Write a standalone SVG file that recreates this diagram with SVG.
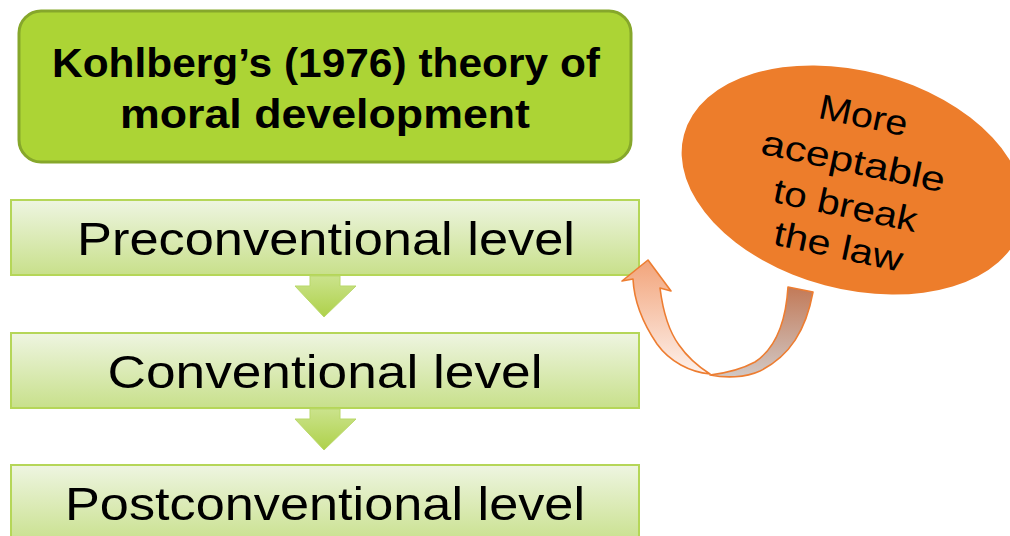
<svg xmlns="http://www.w3.org/2000/svg" width="1010" height="536" viewBox="0 0 1010 536">
<defs>
<linearGradient id="boxG" x1="0" y1="0" x2="0" y2="1">
<stop offset="0" stop-color="#eef5e1"/>
<stop offset="1" stop-color="#c8e08b"/>
</linearGradient>
<linearGradient id="arrG" x1="0" y1="0" x2="0" y2="1">
<stop offset="0" stop-color="#cbe38c"/>
<stop offset="1" stop-color="#aed14a"/>
</linearGradient>
<linearGradient id="leftG" x1="0" y1="0" x2="0" y2="1">
<stop offset="0" stop-color="#f2a47a"/>
<stop offset="1" stop-color="#fdf1ec"/>
</linearGradient>
<linearGradient id="rightG" x1="0" y1="0" x2="0" y2="1">
<stop offset="0" stop-color="#c27a58"/>
<stop offset="1" stop-color="#d1c8c5"/>
</linearGradient>
<style>
.box{fill:url(#boxG);stroke:#b5d658;stroke-width:2}
.down{fill:url(#arrG);stroke:#b9d86a;stroke-width:1}
.lvl{font-family:"Liberation Sans",Arial,sans-serif;font-size:46px;fill:#000;text-anchor:middle}
.ttl{font-family:"Liberation Sans",Arial,sans-serif;font-size:40px;font-weight:bold;fill:#000;text-anchor:middle}
.bub{font-family:"Liberation Sans",Arial,sans-serif;font-size:35px;fill:#000;text-anchor:middle}
.curv{stroke:#ed7d31;stroke-width:1.6;stroke-linejoin:round}
</style>
</defs>

<g id="title">
<rect x="19" y="11" width="612" height="151" rx="22" fill="#acd435" stroke="#86a72b" stroke-width="3"/>
<text class="ttl" x="326" y="77" textLength="548" lengthAdjust="spacingAndGlyphs">Kohlberg’s (1976) theory of</text>
<text class="ttl" x="325" y="128" textLength="410" lengthAdjust="spacingAndGlyphs">moral development</text>
</g>

<g id="preconventional">
<rect class="box" x="11" y="200" width="628" height="75"/>
<text class="lvl" x="326" y="255" textLength="498" lengthAdjust="spacingAndGlyphs">Preconventional level</text>
</g>

<g id="conventional">
<rect class="box" x="11" y="333" width="628" height="75"/>
<text class="lvl" x="325" y="388" textLength="435" lengthAdjust="spacingAndGlyphs">Conventional level</text>
</g>

<g id="postconventional">
<rect class="box" x="11" y="465" width="628" height="80"/>
<text class="lvl" x="325" y="520" textLength="520" lengthAdjust="spacingAndGlyphs">Postconventional level</text>
</g>

<g id="bubble">
<ellipse cx="853" cy="180" rx="175" ry="109" transform="rotate(15 853 180)" fill="#ed7d2b"/>
<text class="bub" transform="translate(861 127) rotate(12)" textLength="90" lengthAdjust="spacingAndGlyphs">More</text>
<text class="bub" transform="translate(851 173) rotate(12)" textLength="187" lengthAdjust="spacingAndGlyphs">aceptable</text>
<text class="bub" transform="translate(843 217) rotate(12)" textLength="146" lengthAdjust="spacingAndGlyphs">to break</text>
<text class="bub" transform="translate(836 258) rotate(12)" textLength="131" lengthAdjust="spacingAndGlyphs">the law</text>
</g>

<g id="connectors">
<path class="down" d="M310,276 L340,276 L340,286 L356,286 L324,317 L295,286 L310,286 Z"/>
<path class="down" d="M310,409 L340,409 L340,419 L356,419 L324,450 L295,419 L310,419 Z"/>
<path class="curv" fill="url(#rightG)" d="M788,287 L813,292 C806,330 790,356 760,371 C745,378 725,378 710,375 C727,373 742,369 755,362 C776,348 786,320 788,287 Z"/>
<path class="curv" fill="url(#leftG)" d="M710,374 C690,372 670,362 657,344 C642,322 634,300 633,279 L622,281 L648,260 L671,291 L660,288 C663,312 668,330 679,345 C688,358 699,367 710,374 Z"/>
</g>
</svg>
